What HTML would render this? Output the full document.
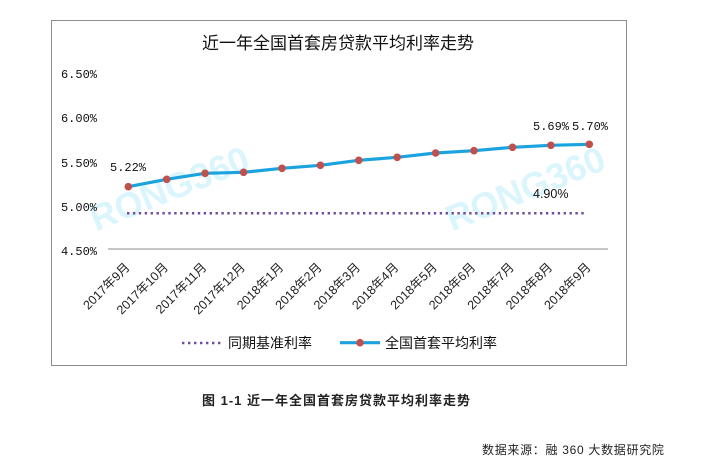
<!DOCTYPE html>
<html><head><meta charset="utf-8"><style>
html,body{margin:0;padding:0;background:#fff;}
svg{display:block;}
.cjk{font-family:"Liberation Sans","Noto Sans CJK SC",sans-serif;}
.mono{font-family:"Liberation Mono","Noto Sans CJK SC",monospace;}
</style></head><body>
<svg width="715" height="465" viewBox="0 0 715 465" xmlns="http://www.w3.org/2000/svg">
<rect width="715" height="465" fill="#fff"/>
<rect x="51.5" y="20.5" width="575" height="345" fill="#fff" stroke="#8c8c8c" stroke-width="1"/>
<!-- watermarks -->
<g font-family="Liberation Sans, sans-serif" font-weight="bold" font-size="36" fill="#dbf5fd" text-anchor="middle">
<text transform="translate(174,200) rotate(-22)">RONG360</text>
<text transform="translate(530,200) rotate(-22)">RONG360</text>
</g>
<!-- title -->
<text x="338" y="49" class="cjk" font-size="17" text-anchor="middle" fill="#111">近一年全国首套房贷款平均利率走势</text>
<!-- y labels -->
<g class="mono" font-size="12" fill="#111" text-anchor="end">
<text x="97" y="78">6.50%</text>
<text x="97" y="122">6.00%</text>
<text x="97" y="167">5.50%</text>
<text x="97" y="211">5.00%</text>
<text x="97" y="255">4.50%</text>
</g>
<!-- axis -->
<line x1="108" y1="249" x2="608" y2="249" stroke="#8c8c8c" stroke-width="1"/>
<!-- dotted baseline -->
<line x1="127" y1="213.3" x2="586" y2="213.3" stroke="#6f4e9e" stroke-width="2.5" stroke-dasharray="2.4 3.5"/>
<!-- series -->
<polyline fill="none" stroke="#1ba3df" stroke-width="3.2" stroke-linejoin="round" points="128.3,186.7 166.7,179.3 205.1,173.3 243.6,172.3 282,168.3 320.4,165.3 358.8,160.3 397.2,157.3 435.6,153 474,150.7 512.5,147.3 550.9,145.3 589.3,144.3"/>
<g fill="#c0504d">
<circle cx="128.3" cy="186.7" r="3.8"/><circle cx="166.7" cy="179.3" r="3.8"/><circle cx="205.1" cy="173.3" r="3.8"/><circle cx="243.6" cy="172.3" r="3.8"/><circle cx="282" cy="168.3" r="3.8"/><circle cx="320.4" cy="165.3" r="3.8"/><circle cx="358.8" cy="160.3" r="3.8"/><circle cx="397.2" cy="157.3" r="3.8"/><circle cx="435.6" cy="153" r="3.8"/><circle cx="474" cy="150.7" r="3.8"/><circle cx="512.5" cy="147.3" r="3.8"/><circle cx="550.9" cy="145.3" r="3.8"/><circle cx="589.3" cy="144.3" r="3.8"/>
</g>
<!-- data labels -->
<g class="mono" font-size="12" fill="#111">
<text x="110" y="171">5.22%</text>
<text x="533" y="130">5.69%</text>
<text x="572" y="130">5.70%</text>
</g>
<text x="533" y="198" font-family="Liberation Sans, sans-serif" font-size="12.5" fill="#111">4.90%</text>
<!-- x labels -->
<g class="cjk" font-size="12.5" fill="#222" text-anchor="end">
<text transform="translate(130.5,268) rotate(-45)">2017年9月</text>
<text transform="translate(168.9,268) rotate(-45)">2017年10月</text>
<text transform="translate(207.3,268) rotate(-45)">2017年11月</text>
<text transform="translate(245.8,268) rotate(-45)">2017年12月</text>
<text transform="translate(284.2,268) rotate(-45)">2018年1月</text>
<text transform="translate(322.6,268) rotate(-45)">2018年2月</text>
<text transform="translate(361,268) rotate(-45)">2018年3月</text>
<text transform="translate(399.4,268) rotate(-45)">2018年4月</text>
<text transform="translate(437.8,268) rotate(-45)">2018年5月</text>
<text transform="translate(476.2,268) rotate(-45)">2018年6月</text>
<text transform="translate(514.7,268) rotate(-45)">2018年7月</text>
<text transform="translate(553.1,268) rotate(-45)">2018年8月</text>
<text transform="translate(591.5,268) rotate(-45)">2018年9月</text>
</g>
<!-- legend -->
<line x1="182" y1="343" x2="222" y2="343" stroke="#6f4e9e" stroke-width="2.5" stroke-dasharray="2.4 3.6"/>
<text x="228" y="348" class="cjk" font-size="14" fill="#111">同期基准利率</text>
<line x1="340" y1="342.7" x2="380" y2="342.7" stroke="#1ba3df" stroke-width="3.2"/>
<circle cx="360" cy="342.7" r="3.8" fill="#c0504d"/>
<text x="385" y="348" class="cjk" font-size="14" fill="#111">全国首套平均利率</text>
<!-- caption -->
<text x="202" y="405" class="cjk" font-size="13" font-weight="bold" letter-spacing="1" fill="#222">图 1-1 近一年全国首套房贷款平均利率走势</text>
<text x="482" y="454" class="cjk" font-size="12" letter-spacing="0.7" fill="#222">数据来源：融 360 大数据研究院</text>
</svg>
</body></html>
